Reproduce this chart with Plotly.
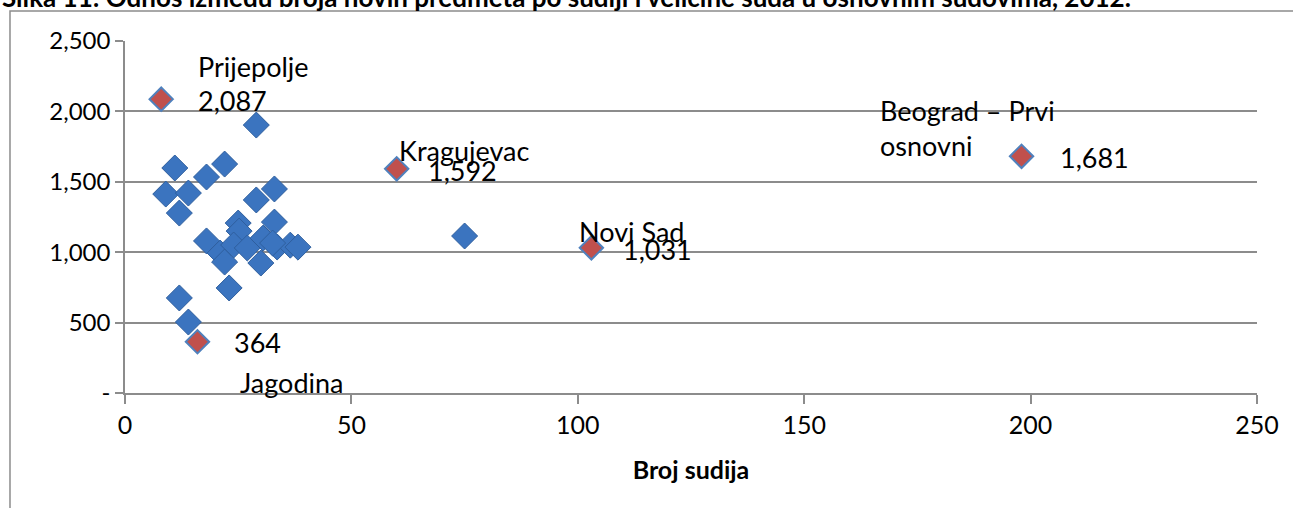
import plotly.graph_objects as go

# Blue: other basic courts (Broj sudija, novi predmeti po sudiji)
blue_x = [11, 18, 22, 9, 14, 12, 29, 33, 29, 25, 25.2, 33, 18, 21, 24, 27, 30.5, 33.6, 36.5, 38.2, 22, 30, 23, 12, 14, 75, 32.6]
blue_y = [1598, 1534, 1626, 1413, 1420, 1278, 1371, 1449, 1903, 1207, 1150, 1214, 1080, 994, 1051, 1030, 1100, 1037, 1050, 1036, 930, 923, 746, 675, 504, 1115, 1065]

# Red: labelled courts
red_names = ["Prijepolje", "Jagodina", "Kragujevac", "Novi Sad", "Beograd – Prvi<br>osnovni"]
red_x = [8, 16, 60, 103, 198]
red_y = [2087, 364, 1592, 1031, 1681]

y_tickvals = [0, 500, 1000, 1500, 2000, 2500]
y_ticktext = ["-", "500", "1,000", "1,500", "2,000", "2,500"]
x_tickvals = [0, 50, 100, 150, 200, 250]

title_text = "Slika 11: Odnos između broja novih predmeta po sudiji i veličine suda u osnovnim sudovima, 2012."
x_title = "Broj sudija"

FONT = "Lato"
GRID = "#8c8c8c"

fig = go.Figure()
fig.add_trace(go.Scatter(
    x=blue_x, y=blue_y, mode="markers",
    marker=dict(symbol="diamond", size=20, color="#3b74bf",
                line=dict(color="#2f5f9e", width=1)),
    showlegend=False, hoverinfo="skip"))
fig.add_trace(go.Scatter(
    x=red_x, y=red_y, mode="markers",
    marker=dict(symbol="diamond", size=18, color="#c0504d",
                line=dict(color="#4f81bd", width=2)),
    showlegend=False, hoverinfo="skip"))

lab_font = dict(family=FONT, size=27, color="#000000")
vals = [f"{v:,}" for v in red_y]

def ann(x, y, text, xs, ys, xanchor="left", align="left"):
    fig.add_annotation(x=x, y=y, xref="x", yref="y", text=text, showarrow=False,
                       xanchor=xanchor, yanchor="middle", xshift=xs, yshift=ys,
                       font=lab_font, align=align)

# Prijepolje
ann(red_x[0], red_y[0], red_names[0], 35, 33)
ann(red_x[0], red_y[0], vals[0], 35, -1)
# Jagodina
ann(red_x[1], red_y[1], vals[1], 35, -1)
ann(red_x[1], red_y[1], red_names[1], 41, -41)
# Kragujevac
ann(red_x[2], red_y[2], red_names[2], 68, 18, xanchor="center")
ann(red_x[2], red_y[2], vals[2], 66, -2, xanchor="center")
# Novi Sad
ann(red_x[3], red_y[3], red_names[3], 40, 16, xanchor="center")
ann(red_x[3], red_y[3], vals[3], 66, -2, xanchor="center")
# Beograd
ann(red_x[4], red_y[4], red_names[4], -144, 28)
ann(red_x[4], red_y[4], vals[4], 36, -1)

# Title (partly cut at the top)
fig.add_annotation(x=-0.1104, y=1.125, xref="paper", yref="paper", text="<b>" + title_text + "</b>",
                   showarrow=False, xanchor="left", yanchor="middle",
                   font=dict(family=FONT, size=26, color="#000000"))

# Outer chart border
fig.add_shape(type="rect", xref="paper", yref="paper",
              x0=-0.1016, x1=1.04, y0=-0.36, y1=1.0852,
              line=dict(color=GRID, width=1.5), fillcolor="rgba(0,0,0,0)", layer="above")

fig.update_xaxes(range=[0, 250], tickvals=x_tickvals, showgrid=False, zeroline=False,
                 showline=True, linecolor=GRID, linewidth=1.5,
                 ticks="outside", ticklen=9, tickcolor=GRID, tickwidth=1.5,
                 tickfont=dict(family=FONT, size=25, color="#000"),
                 title=dict(text="<b>" + x_title + "</b>", font=dict(family=FONT, size=25, color="#000"), standoff=24))
fig.update_yaxes(range=[0, 2500], tickvals=y_tickvals, ticktext=y_ticktext,
                 showgrid=True, gridcolor=GRID, gridwidth=1.5, zeroline=False,
                 showline=True, linecolor=GRID, linewidth=1.5,
                 ticks="outside", ticklen=8, tickcolor=GRID, tickwidth=1.5,
                 tickfont=dict(family=FONT, size=24, color="#000"))

fig.update_layout(width=1293, height=508, margin=dict(l=125, r=36, t=41, b=115),
                  paper_bgcolor="white", plot_bgcolor="white")

fig.write_html("out.html", config={"displayModeBar": False},
               post_script="document.body.style.margin='0';document.body.style.overflow='hidden';")
